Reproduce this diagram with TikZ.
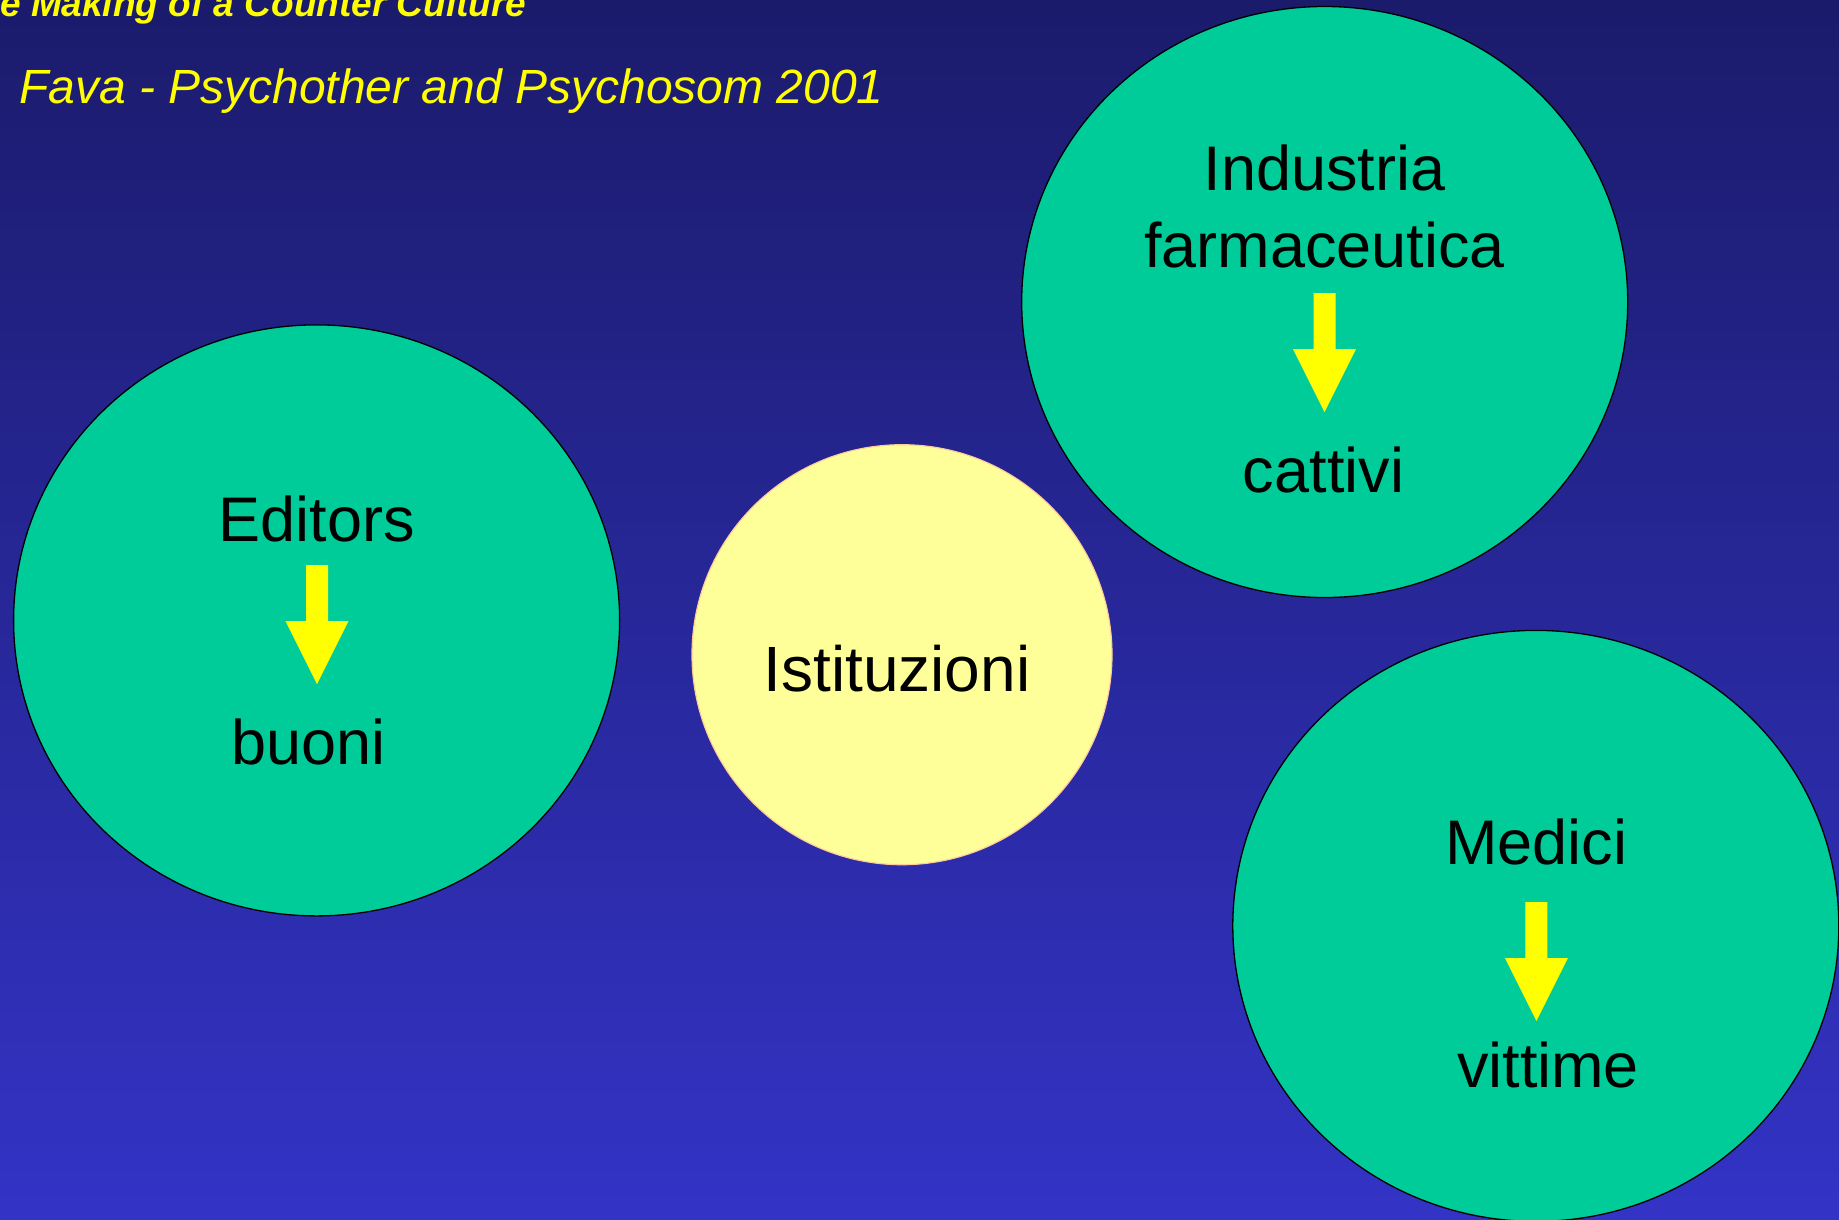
\documentclass[tikz,border=0pt]{standalone}
\usepackage{fontspec}
\setmainfont{Liberation Sans}
\usetikzlibrary{calc}
\definecolor{bgtop}{RGB}{27,27,108}
\definecolor{bgbot}{RGB}{51,51,198}
\definecolor{tealgreen}{RGB}{0,204,153}
\definecolor{paleyellow}{RGB}{255,255,153}
\definecolor{paleorange}{RGB}{255,204,153}
\definecolor{titleyellow}{RGB}{255,255,0}
\tikzset{
  greenball/.style={ellipse, draw=black, line width=1.3pt, fill=tealgreen, minimum width=606, minimum height=591, inner sep=0pt},
  yellowball/.style={circle, draw=paleorange, line width=1.2pt, fill=paleyellow, minimum size=420, inner sep=0pt},
  lbl/.style={anchor=base, inner sep=0pt, text=black, font=\fontsize{63}{77}\selectfont},
  blockarrow/.style={fill=titleyellow, draw=none},
}
\usetikzlibrary{shapes.geometric}
\begin{document}
\begin{tikzpicture}[x=1pt,y=-1pt]
\useasboundingbox (0,0) rectangle (1839,1219);
\clip (0,0) rectangle (1839,1219);
\shade[top color=bgtop, bottom color=bgbot] (0,0) rectangle (1839,1219);

\node[font=\fontsize{37}{44}\selectfont\bfseries\itshape, text=titleyellow, anchor=base west, inner sep=0pt] (title) at (0,16) {e Making of a Counter Culture};
\node[font=\fontsize{48}{56}\selectfont\itshape, text=titleyellow, anchor=base west, inner sep=0pt] (ref) at (19,103) {Fava - Psychother and Psychosom 2001};

% circles
\node[greenball] (edc) at (316.6,620.4) {};
\node[greenball] (inc) at (1324.7,302) {};
\node[greenball] (mec) at (1535.8,925.9) {};
\node[yellowball] (isc) at (902,654.7) {};

% labels
\node[lbl] (editors) at (316.6,541.8) {Editors};
\node[lbl] (buoni) at (308.5,764.7) {buoni};
\node[lbl] (industria) at (1324.5,190) {Industria};
\node[lbl] (farma) at (1324.5,267.4) {farmaceutica};
\node[lbl] (cattivi) at (1323.5,492.6) {cattivi};
\node[lbl] (medici) at (1536.4,864.4) {Medici};
\node[lbl] (vittime) at (1548,1087.2) {vittime};
\node[lbl, font=\fontsize{64}{76}\selectfont] (istituzioni) at (897,691.7) {Istituzioni};

% block arrows (top centre coordinates)
\coordinate (a1) at (317,565);
\coordinate (a2) at (1324.5,293.2);
\coordinate (a3) at (1536.4,902);
\foreach \a in {a1,a2,a3}{
  \fill[blockarrow] ($(\a)+(-11,0)$) -- ($(\a)+(11,0)$) -- ($(\a)+(11,56)$) -- ($(\a)+(31.5,56)$)
     -- ($(\a)+(0,119)$) -- ($(\a)+(-31.5,56)$) -- ($(\a)+(-11,56)$) -- cycle;
}
\end{tikzpicture}
\end{document}
